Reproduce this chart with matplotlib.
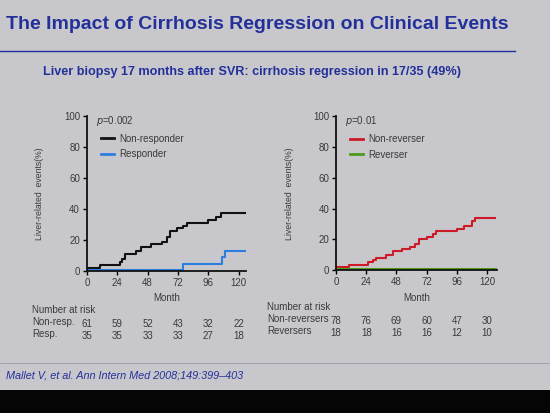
import matplotlib.pyplot as plt
from matplotlib.patches import Rectangle
from matplotlib.lines import Line2D

plt.rcParams['font.family'] = ['Liberation Sans', 'DejaVu Sans']

# Kaplan-Meier style cumulative events (%), step points (month, value)
nonresp_t = [0, 10, 26, 28, 30, 32, 39, 43, 51, 59, 63, 66, 71, 76, 79, 96, 102, 106, 125]
nonresp_v = [2.2, 4, 6, 8, 11, 11, 13, 15.5, 17.5, 19, 22, 26, 27.5, 29, 31, 33, 35, 37.5, 37.5]
resp_t = [0, 76, 107, 109, 127]
resp_v = [0.5, 4.3, 9, 13, 13]

nonrev_t = [0, 10.5, 25, 29, 32, 40, 45.5, 52, 59, 63, 66, 72, 77, 79, 96, 102, 108, 110, 126]
nonrev_v = [2.2, 3.5, 5, 6.5, 8, 10, 12.5, 13.5, 15, 17, 20, 21.5, 23.5, 25.5, 27, 29, 32, 34, 34]
rev_t = [0, 128]
rev_v = [0.5, 0.5]

risk_months = [0, 24, 48, 72, 96, 120]
risk_nonresp = [61, 59, 52, 43, 32, 22]
risk_resp = [35, 35, 33, 33, 27, 18]
risk_nonrev = [78, 76, 69, 60, 47, 30]
risk_rev = [18, 18, 16, 16, 12, 10]

bg = '#c8c8cc'
navy = '#23309a'
txt = '#3a3a3a'
fs = 7.0

fig = plt.figure(figsize=(5.5, 4.13), dpi=100)
fig.patch.set_facecolor(bg)
fig.patches.append(Rectangle((0, 0), 1, 23 / 413, transform=fig.transFigure,
                             facecolor='#050505', edgecolor='none', zorder=0))

fig.text(0.01, 0.94, 'The Impact of Cirrhosis Regression on Clinical Events',
         color=navy, fontsize=14, fontweight='bold', va='center')
fig.add_artist(Line2D([0, 0.937], [1 - 51 / 413] * 2, color=navy, lw=1.0,
                      transform=fig.transFigure))
fig.text(0.078, 1 - 72 / 413,
         'Liver biopsy 17 months after SVR: cirrhosis regression in 17/35 (49%)',
         color=navy, fontsize=9.1, fontweight='bold', va='center')
fig.add_artist(Line2D([0, 1], [1 - 363 / 413] * 2, color='#9a9aa8', lw=0.6,
                      transform=fig.transFigure))
fig.text(0.01, 1 - 376 / 413, 'Mallet V, et al. Ann Intern Med 2008;149:399\u2013403',
         color=navy, fontsize=7.8, style='italic', va='center')


def km_panel(rect, xmax, series, pval):
    ax = fig.add_axes(rect)
    ax.set_facecolor('none')
    for t, v, c, lab in series:
        ax.step(t, v, where='post', color=c, lw=1.5, label=lab)
    ax.set_xlim(0, xmax)
    ax.set_ylim(0, 100)
    ax.set_xticks([0, 24, 48, 72, 96, 120])
    ax.set_yticks([0, 20, 40, 60, 80, 100])
    for s in ['top', 'right']:
        ax.spines[s].set_visible(False)
    for s in ['left', 'bottom']:
        ax.spines[s].set_linewidth(1.3)
        ax.spines[s].set_color('#111111')
    ax.tick_params(labelsize=fs, labelcolor=txt, length=3, width=1, pad=2)
    ax.set_xlabel('Month', fontsize=fs, color=txt, labelpad=4)
    ax.set_ylabel('Liver-related  events(%)', fontsize=6.2, color=txt, labelpad=14)
    ax.text(0.055, 0.97, pval, transform=ax.transAxes, fontsize=fs, color=txt,
            va='center')
    leg = ax.legend(loc='upper left', bbox_to_anchor=(0.065, 0.91), frameon=False,
                    fontsize=fs, handlelength=1.3, handletextpad=0.55,
                    labelspacing=0.55, borderaxespad=0)
    for txt_obj in leg.get_texts():
        txt_obj.set_color(txt)
    for h in leg.legend_handles:
        h.set_linewidth(2)
    return ax


axl = km_panel([0.158, 0.344, 0.290, 0.375], 126,
               [(nonresp_t, nonresp_v, '#111111', 'Non-responder'),
                (resp_t, resp_v, '#2c7de0', 'Responder')],
               r'$p$=0.002')
axr = km_panel([0.611, 0.346, 0.293, 0.372], 128,
               [(nonrev_t, nonrev_v, '#cc1a26', 'Non-reverser'),
                (rev_t, rev_v, '#4f9a1c', 'Reverser')],
               r'$p$=0.01')


def risk_table(ax, label_x, rows, y_head):
    fig.text(label_x, y_head, 'Number at risk', fontsize=fs, color=txt, va='center')
    for i, (name, vals) in enumerate(rows):
        y = y_head - (i + 1) * 12 / 413
        fig.text(label_x, y, name, fontsize=fs, color=txt, va='center')
        for m, n in zip(risk_months, vals):
            xf = fig.transFigure.inverted().transform(ax.transData.transform((m, 0)))[0]
            fig.text(xf, y - 0.004, str(n), fontsize=fs, color=txt, va='center', ha='center')


risk_table(axl, 32 / 550, [('Non-resp.', risk_nonresp), ('Resp.', risk_resp)], 1 - 310 / 413)
risk_table(axr, 267 / 550, [('Non-reversers', risk_nonrev), ('Reversers', risk_rev)], 1 - 307 / 413)

fig.savefig('out.png', dpi=100, facecolor=fig.get_facecolor())
